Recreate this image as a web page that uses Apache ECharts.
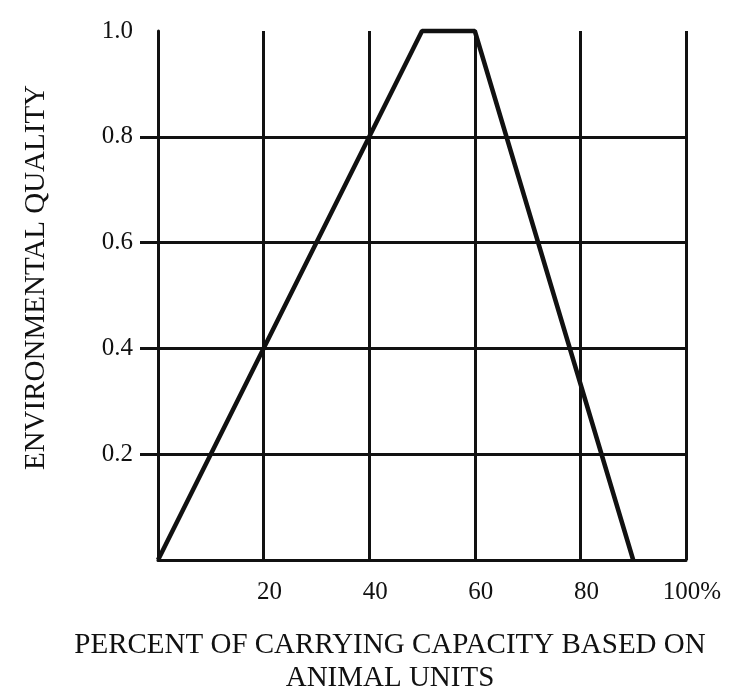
<!DOCTYPE html>
<html>
<head>
<meta charset="utf-8">
<script src="https://cdn.jsdelivr.net/npm/echarts@6/dist/echarts.min.js"></script>
<style>html,body{margin:0;padding:0;background:#fff}#c{width:742px;height:693px}</style>
</head>
<body>
<div id="c"></div>
<script>
var xValues = [0, 50, 60, 90];
var yValues = [0, 1.0, 1.0, 0];
var xTickValues = [20, 40, 60, 80, 100];
var yTickValues = [0.2, 0.4, 0.6, 0.8, 1.0];
var xTitle = 'PERCENT OF CARRYING CAPACITY BASED ON\nANIMAL UNITS';
var yTitle = 'ENVIRONMENTAL QUALITY';

var ink = '#111';
var font = '"Liberation Serif", "DejaVu Serif", serif';
var chart = echarts.init(document.getElementById('c'));
chart.setOption({
  animation: false,
  backgroundColor: '#fff',
  grid: { left: 158, right: 56, top: 31, bottom: 133, show: false, containLabel: false, outerBoundsMode: 'none' },
  xAxis: {
    type: 'value', min: 0, max: 100, interval: 20,
    name: xTitle, nameLocation: 'middle', nameGap: 69,
    nameTextStyle: { fontFamily: font, fontSize: 29, color: ink, lineHeight: 33, padding: [0, 64, 0, 0] },
    axisLine: { show: true, lineStyle: { color: ink, width: 3 } },
    axisTick: { show: false },
    axisLabel: {
      customValues: xTickValues, margin: 20, fontFamily: font, fontSize: 25, color: ink,
      padding: [0, 0, 0, 12],
      formatter: function (v) { return v === 100 ? '100%' : String(v); }
    },
    splitLine: { show: true, lineStyle: { color: ink, width: 3 } }
  },
  yAxis: {
    type: 'value', min: 0, max: 1, interval: 0.2,
    name: yTitle, nameLocation: 'middle', nameGap: 107, nameRotate: 90,
    nameTextStyle: { fontFamily: font, fontSize: 29, color: ink, padding: [0, 0, 0, 36] },
    axisLine: { show: true, lineStyle: { color: ink, width: 3 } },
    axisTick: { show: true, customValues: [0.2, 0.4, 0.6, 0.8], length: 18, lineStyle: { color: ink, width: 3 } },
    axisLabel: {
      customValues: yTickValues, margin: 25, fontFamily: font, fontSize: 25, color: ink,
      formatter: function (v) { return v.toFixed(1); }
    },
    splitLine: { show: true, lineStyle: { color: ink, width: 3 } }
  },
  series: [{
    type: 'line',
    data: xValues.map(function (x, i) { return [x, yValues[i]]; }),
    symbol: 'none',
    lineStyle: { color: ink, width: 4.5 },
    clip: false
  }]
});
</script>
</body>
</html>
